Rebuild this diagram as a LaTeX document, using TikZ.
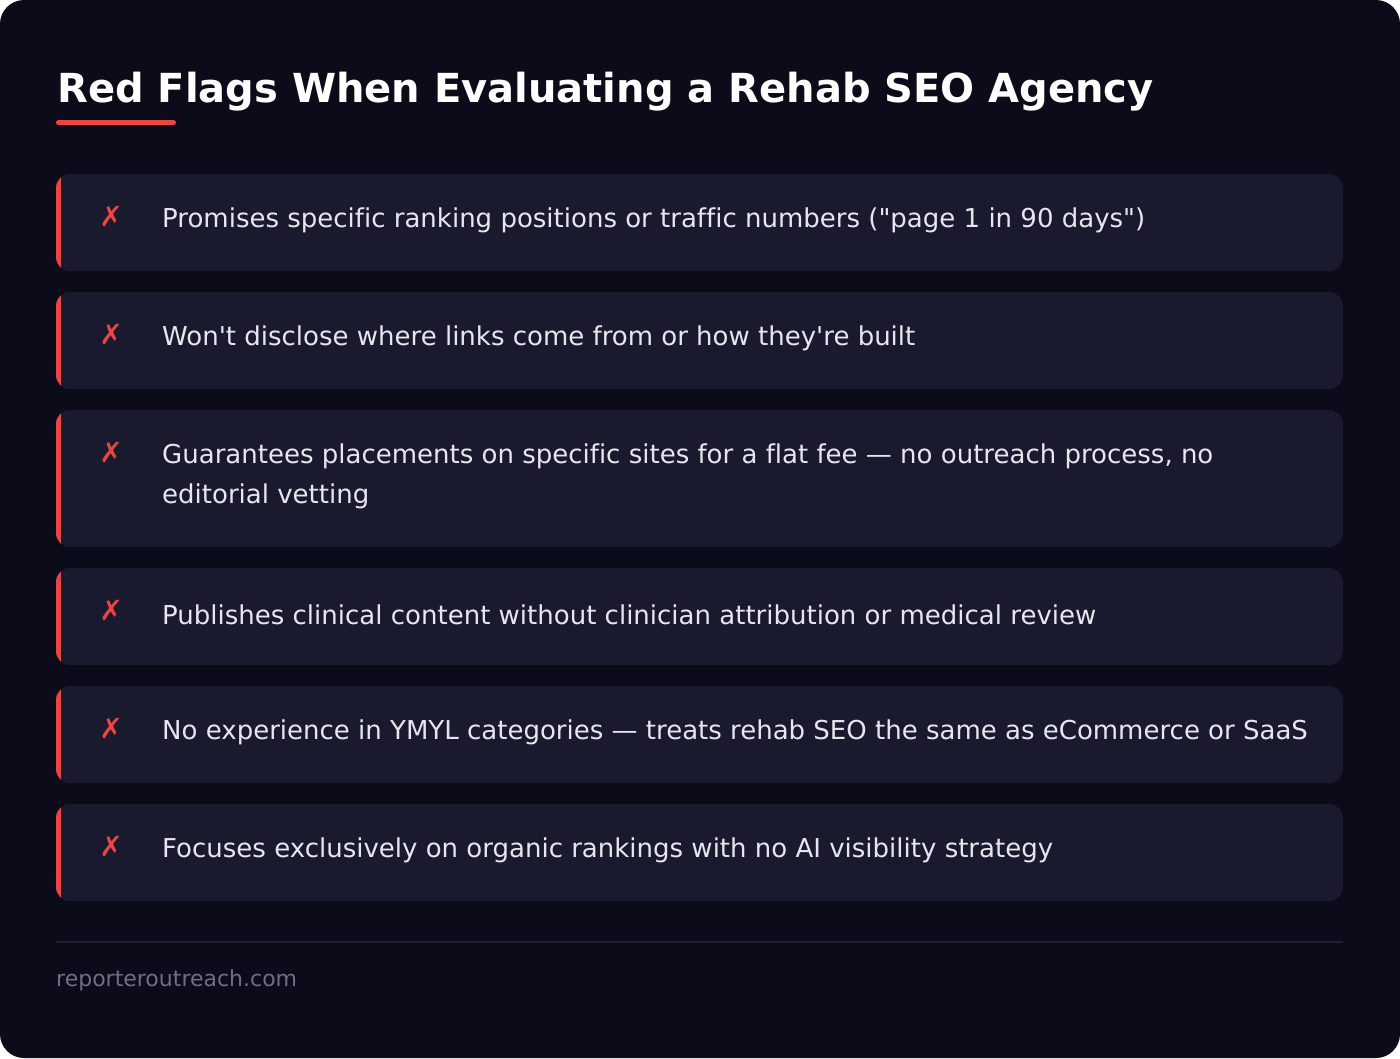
\documentclass[tikz,border=0pt]{standalone}
\usepackage{fontspec}
\setmainfont{DejaVu Sans}[Ligatures={TeXOff,NoCommon}]
\definecolor{bg}{HTML}{0B0B19}
\definecolor{card}{HTML}{1A1A2E}
\definecolor{flag}{HTML}{E94545}
\definecolor{foot}{HTML}{6E6E82}
\definecolor{rule}{HTML}{1F1F33}
\definecolor{txt}{HTML}{E6E6EE}
\begin{document}
\begin{tikzpicture}[x=1pt,y=-1pt,
  itemtext/.style={anchor=west,text=txt,font=\fontsize{26}{40}\selectfont,align=left,inner sep=0pt},
  xmark/.style={text=flag,font=\bfseries\fontsize{28}{30}\selectfont,inner sep=0pt}]
\useasboundingbox (0,0) rectangle (1400,1058);
\fill[white] (0,0) rectangle (1400,1058);
\fill[bg,rounded corners=24pt] (0,0) rectangle (1400,1058);
\node[anchor=base west,inner sep=0pt,text=white,font=\bfseries\fontsize{40}{46}\selectfont] (title) at (57,102) {Red Flags When Evaluating a Rehab SEO Agency};
\fill[flag,rounded corners=2.5pt] (56,120) rectangle (176,125);
\newcommand{\flagcard}[4]{%
  \begin{scope}
  \clip[rounded corners=14pt] (56,#1) rectangle (1343,#2);
  \fill[card] (56,#1) rectangle (1343,#2);
  \fill[flag] (56,#1) rectangle (61,#2);
  \end{scope}
  \node[xmark] (m#4) at (111,{#1+42}) {✗};
  \node[itemtext] (t#4) at (162,{(#1+#2)/2-2}) {#3};}
\flagcard{174}{271}{Promises specific ranking positions or traffic numbers ("page 1 in 90 days")}{1}
\flagcard{292}{389}{Won't disclose where links come from or how they're built}{2}
\flagcard{410}{547}{Guarantees placements on specific sites for a flat fee — no outreach process, no\\editorial vetting}{3}
\flagcard{568}{665}{Publishes clinical content without clinician attribution or medical review}{4}
\flagcard{686}{783}{No experience in YMYL categories — treats rehab SEO the same as eCommerce or SaaS}{5}
\flagcard{804}{901}{Focuses exclusively on organic rankings with no AI visibility strategy}{6}
\draw[rule,line width=1.5pt] (56,942) -- (1343,942);
\node[anchor=west,inner sep=0pt,text=foot,font=\fontsize{22}{24}\selectfont] (footer) at (56,980) {reporteroutreach.com};
\end{tikzpicture}
\end{document}
